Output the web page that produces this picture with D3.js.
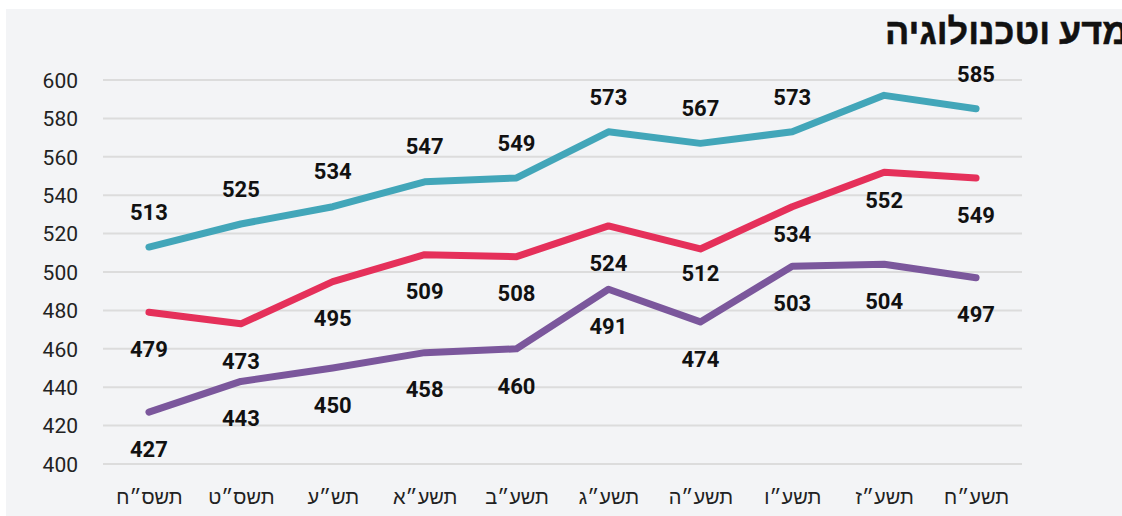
<!DOCTYPE html>
<html>
<head>
<meta charset="utf-8">
<script src="https://cdn.jsdelivr.net/npm/d3@7"></script>
<style>
  html, body { margin: 0; padding: 0; background: #fff; overflow: hidden; }
  text { font-family: Roboto, "Liberation Sans", sans-serif; }
</style>
</head>
<body>
<svg id="chart" width="1122" height="516"></svg>
<script>
var years = ["תשס״ח", "תשס״ט", "תש״ע", "תשע״א", "תשע״ב", "תשע״ג", "תשע״ה", "תשע״ו", "תשע״ז", "תשע״ח"];
var tealValues = [513, 525, 534, 547, 549, 573, 567, 573, 592, 585];
var redValues = [479, 473, 495, 509, 508, 524, 512, 534, 552, 549];
var purpleValues = [427, 443, 450, 458, 460, 491, 474, 503, 504, 497];
var yTicks = [400, 420, 440, 460, 480, 500, 520, 540, 560, 580, 600];
var title = "מדע וטכנולוגיה";

var width = 1122, height = 516;
var svg = d3.select("#chart");

// panel background
svg.append("rect")
    .attr("x", 6).attr("y", 9)
    .attr("width", width - 6).attr("height", height - 9)
    .attr("fill", "#f3f4f6");

var x = d3.scalePoint().domain(years).range([103, 1022]).padding(0.5);
var y = d3.scaleLinear().domain([400, 600]).range([464, 80]);

// grid
svg.append("g").selectAll("line")
    .data(yTicks)
    .enter().append("line")
    .attr("x1", 103).attr("x2", 1022)
    .attr("y1", function (d) { return y(d); })
    .attr("y2", function (d) { return y(d); })
    .attr("stroke", "#dcdcdc")
    .attr("stroke-width", 2);

// y axis labels
var yAxis = d3.axisLeft(y).tickValues(yTicks).tickSize(0).tickPadding(0);
var gy = svg.append("g").attr("transform", "translate(78,0)").call(yAxis);
gy.select(".domain").remove();
gy.selectAll("text")
    .attr("font-family", "Roboto, sans-serif")
    .attr("font-size", 21)
    .attr("fill", "#222")
    .attr("dy", "0.35em");

// x axis labels
var xAxis = d3.axisBottom(x).tickSize(0).tickPadding(0);
var gx = svg.append("g").attr("transform", "translate(0,490)").call(xAxis);
gx.select(".domain").remove();
gx.selectAll("text")
    .attr("font-family", "'Liberation Sans', Arial, sans-serif")
    .attr("font-size", 20)
    .attr("fill", "#222")
    .attr("dy", "0.71em");

// the teal label at index 8 is not shown in the original
var series = [
    { name: "teal", values: tealValues, color: "#42a6b9", above: true, skip: [8] },
    { name: "red", values: redValues, color: "#e5305a", above: false, skip: [] },
    { name: "purple", values: purpleValues, color: "#7b579c", above: false, skip: [] }
];

// a few labels sit closer to the line in the original
var nudge = { "red-6": -13, "red-7": -9, "red-8": -9 };

var line = d3.line()
    .x(function (d, i) { return x(years[i]); })
    .y(function (d) { return y(d); });

series.forEach(function (s) {
    svg.append("path")
        .datum(s.values)
        .attr("d", line)
        .attr("fill", "none")
        .attr("stroke", s.color)
        .attr("stroke-width", 7)
        .attr("stroke-linecap", "round")
        .attr("stroke-linejoin", "round");
});

series.forEach(function (s) {
    var pts = s.values.map(function (v, i) { return { v: v, i: i }; })
        .filter(function (p) { return s.skip.indexOf(p.i) < 0; });
    svg.append("g").selectAll("text")
        .data(pts)
        .enter().append("text")
        .attr("x", function (p) { return x(years[p.i]); })
        .attr("y", function (p) {
            var off = s.above ? -35 : 37;
            off += nudge[s.name + "-" + p.i] || 0;
            return y(p.v) + off;
        })
        .attr("dy", "0.35em")
        .attr("text-anchor", "middle")
        .attr("font-family", "Roboto, sans-serif")
        .attr("font-weight", 700)
        .attr("font-size", 22)
        .attr("fill", "#111")
        .text(function (p) { return p.v; });
});

// title, runs slightly past the right edge like the original
var t = svg.append("text")
    .attr("font-family", "'Liberation Sans', Arial, sans-serif")
    .attr("font-weight", 700)
    .attr("font-size", 36)
    .attr("fill", "#111")
    .attr("stroke", "#111")
    .attr("stroke-width", 0.5)
    .attr("y", 44)
    .attr("x", 885)
    .text(title);
var bb = t.node().getBBox();
t.attr("x", 885 - (bb.x - 885));
</script>
</body>
</html>
